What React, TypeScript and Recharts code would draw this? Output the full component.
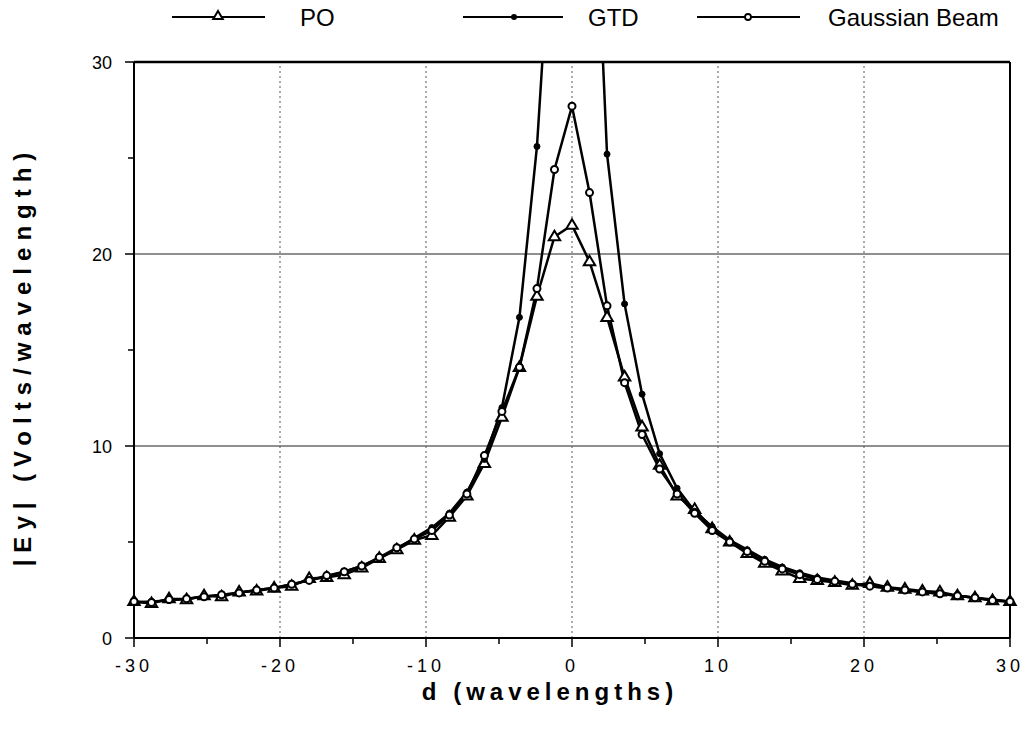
import React from 'react';
import {
  LineChart,
  Line,
  XAxis,
  YAxis,
  ReferenceLine,
  Legend,
} from 'recharts';

// Distance across the beam, in wavelengths (step 1.2)
const distance = [
  -30, -28.8, -27.6, -26.4, -25.2, -24, -22.8, -21.6, -20.4, -19.2, -18, -16.8, -15.6,
  -14.4, -13.2, -12, -10.8, -9.6, -8.4, -7.2, -6, -4.8, -3.6, -2.4, -1.2, 0,
  1.2, 2.4, 3.6, 4.8, 6, 7.2, 8.4, 9.6, 10.8, 12, 13.2, 14.4, 15.6, 16.8, 18,
  19.2, 20.4, 21.6, 22.8, 24, 25.2, 26.4, 27.6, 28.8, 30,
];

const po = [
  1.9, 1.8, 2.05, 2.0, 2.2, 2.15, 2.4, 2.45, 2.6, 2.7, 3.1, 3.15, 3.3,
  3.65, 4.15, 4.6, 5.1, 5.35, 6.3, 7.4, 9.1, 11.5, 14.1, 17.8, 20.9, 21.5,
  19.6, 16.7, 13.6, 11.0, 9.0, 7.4, 6.7, 5.7, 5.0, 4.4, 3.9, 3.5, 3.1, 3.0, 2.9,
  2.75, 2.85, 2.65, 2.55, 2.45, 2.4, 2.2, 2.1, 1.95, 1.9,
];

// GTD blows up at the caustic (d = 0), so it runs off the top of the plot
const gtd = [
  1.85, 1.9, 1.95, 2.05, 2.15, 2.25, 2.35, 2.5, 2.6, 2.8, 3.0, 3.2, 3.45,
  3.75, 4.15, 4.65, 5.2, 5.75, 6.5, 7.6, 9.3, 12.0, 16.7, 25.6, 40, 120,
  46, 25.2, 17.4, 12.7, 9.6, 7.8, 6.6, 5.8, 5.1, 4.6, 4.1, 3.7, 3.4, 3.15, 3.0,
  2.85, 2.7, 2.6, 2.5, 2.4, 2.3, 2.2, 2.1, 2.0, 1.9,
];

const gaussian = [
  1.9, 1.85, 2.0, 2.05, 2.15, 2.25, 2.35, 2.5, 2.6, 2.8, 3.0, 3.25, 3.45,
  3.75, 4.2, 4.7, 5.15, 5.6, 6.4, 7.5, 9.5, 11.8, 14.1, 18.2, 24.4, 27.7,
  23.2, 17.3, 13.3, 10.6, 8.8, 7.5, 6.5, 5.6, 5.0, 4.5, 4.0, 3.6, 3.3, 3.05, 2.95,
  2.8, 2.7, 2.6, 2.5, 2.4, 2.3, 2.2, 2.1, 1.95, 1.9,
];

const xTicks = [-30, -25, -20, -15, -10, -5, 0, 5, 10, 15, 20, 25, 30];
const yTicks = [0, 5, 10, 15, 20, 25, 30];
const xGrid = [-20, -10, 0, 10, 20];
const yGrid = [10, 20];

const data = distance.map((d, i) => ({
  d,
  po: po[i],
  gtd: gtd[i],
  gaussian: gaussian[i],
}));

const FONT = '"Liberation Sans", Arial, Helvetica, sans-serif';

const triPath = (cx: number, cy: number, s: number) =>
  `M${cx},${cy - s} L${cx + s * 0.95},${cy + s * 0.6} L${cx - s * 0.95},${cy + s * 0.6} Z`;

const TriangleDot = (props: any) => {
  const { cx, cy, index } = props;
  if (cx == null || cy == null) return <g key={`po-${index}`} />;
  return (
    <path
      key={`po-${index}`}
      d={triPath(cx, cy, 6)}
      fill="#fff"
      stroke="#000"
      strokeWidth={2}
    />
  );
};

const XTick = (props: any) => {
  const { x, y, payload } = props;
  const major = payload.value % 10 === 0;
  return (
    <g>
      <line x1={x} x2={x} y1={y} y2={y + (major ? 9 : 6)} stroke="#000" strokeWidth={1.5} />
      {major && (
        <text
          x={x}
          y={y + 34}
          textAnchor="middle"
          fontSize={18}
          letterSpacing={4}
          fontFamily={FONT}
          fill="#000"
        >
          {payload.value}
        </text>
      )}
    </g>
  );
};

const YTick = (props: any) => {
  const { x, y, payload } = props;
  const major = payload.value % 10 === 0;
  return (
    <g>
      <line x1={x - (major ? 9 : 6)} x2={x} y1={y} y2={y} stroke="#000" strokeWidth={1.5} />
      {major && (
        <text
          x={x - 22}
          y={y + 7}
          textAnchor="end"
          fontSize={18}
          fontFamily={FONT}
          fill="#000"
        >
          {payload.value}
        </text>
      )}
    </g>
  );
};

const LegendContent = () => (
  <svg width={1033} height={36}>
    <g stroke="#000" strokeWidth={2}>
      <line x1={172} x2={265} y1={17} y2={17} />
      <line x1={463} x2={563} y1={17} y2={17} />
      <line x1={697} x2={800} y1={17} y2={17} />
    </g>
    <path d={triPath(218, 16, 5)} fill="#fff" stroke="#000" strokeWidth={2} />
    <circle cx={514} cy={17} r={3} fill="#000" />
    <circle cx={748} cy={17} r={3} fill="#fff" stroke="#000" strokeWidth={1.8} />
    <g fontFamily={FONT} fontSize={24} fill="#000">
      <text x={300} y={26}>PO</text>
      <text x={588} y={26}>GTD</text>
      <text x={828} y={26}>Gaussian Beam</text>
    </g>
  </svg>
);

export default function App() {
  return (
    <div style={{ position: 'absolute', left: 0, top: 0, width: 1033, height: 742, background: '#fff' }}>
      <LineChart
        width={1033}
        height={742}
        data={data}
        margin={{ top: 26, right: 23, left: 72, bottom: 44 }}
      >
        <Legend
          verticalAlign="top"
          content={<LegendContent />}
          wrapperStyle={{ top: 0, left: 0, width: 1033, height: 36 }}
        />
        <XAxis
          dataKey="d"
          type="number"
          domain={[-30, 30]}
          ticks={xTicks}
          interval={0}
          tickSize={0}
          tickMargin={0}
          tickLine={false}
          tick={<XTick />}
          axisLine={{ stroke: '#000', strokeWidth: 2 }}
          height={60}
          label={{
            value: 'd  (wavelengths)',
            position: 'insideBottom',
            offset: -2,
            dx: -22,
            style: { fontFamily: FONT, fontSize: 24, fontWeight: 'bold', letterSpacing: 5, fill: '#000', whiteSpace: 'pre' },
          }}
        />
        <YAxis
          type="number"
          domain={[0, 30]}
          ticks={yTicks}
          interval={0}
          allowDataOverflow
          tickSize={0}
          tickMargin={0}
          tickLine={false}
          tick={<YTick />}
          axisLine={{ stroke: '#000', strokeWidth: 2 }}
          width={62}
          label={{
            value: '|Ey|   (Volts/wavelength)',
            angle: -90,
            position: 'insideLeft',
            offset: -50,
            dy: 6,
            style: {
              textAnchor: 'middle',
              fontFamily: FONT,
              fontSize: 24,
              fontWeight: 'bold',
              letterSpacing: 7,
              fill: '#000',
              whiteSpace: 'pre',
            },
          }}
        />
        {yGrid.map((v) => (
          <ReferenceLine key={`yg-${v}`} y={v} stroke="#222" strokeWidth={1.2} />
        ))}
        {xGrid.map((v) => (
          <ReferenceLine key={`xg-${v}`} x={v} stroke="#555" strokeWidth={1} strokeDasharray="2 3" />
        ))}
        <ReferenceLine y={30} stroke="#000" strokeWidth={2.5} />
        <ReferenceLine x={30} stroke="#000" strokeWidth={2} />
        <Line
          dataKey="po"
          stroke="#000"
          strokeWidth={2.5}
          dot={TriangleDot}
          isAnimationActive={false}
        />
        <Line
          dataKey="gtd"
          stroke="#000"
          strokeWidth={2.5}
          dot={{ r: 3, fill: '#000', stroke: '#000', strokeWidth: 1 }}
          isAnimationActive={false}
        />
        <Line
          dataKey="gaussian"
          stroke="#000"
          strokeWidth={2.5}
          dot={{ r: 3.5, fill: '#fff', stroke: '#000', strokeWidth: 2 }}
          isAnimationActive={false}
        />
      </LineChart>
    </div>
  );
}
